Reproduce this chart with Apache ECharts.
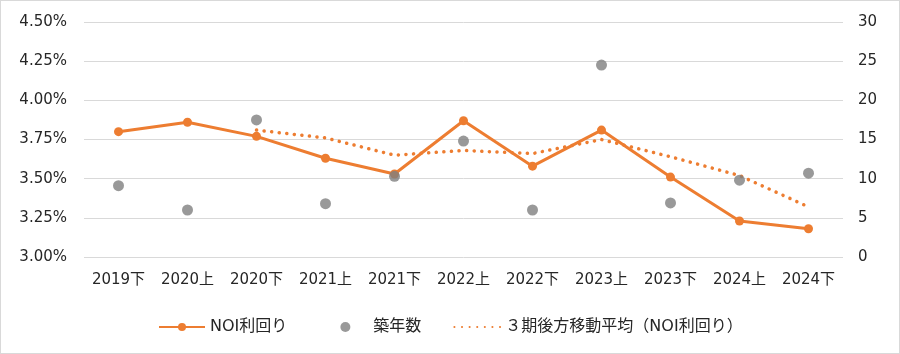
<!DOCTYPE html>
<html>
<head>
<meta charset="utf-8">
<script src="https://cdn.jsdelivr.net/npm/echarts@6/dist/echarts.min.js"></script>
<style>
  html, body { margin: 0; padding: 0; background: #fff; }
  #main { width: 898px; height: 352px; border: 1px solid #d9d9d9; }
</style>
</head>
<body>
<div id="main"></div>
<script>
const categories = ['2019下', '2020上', '2020下', '2021上', '2021下', '2022上', '2022下', '2023上', '2023下', '2024上', '2024下'];
const noiYield = [3.80, 3.86, 3.77, 3.63, 3.53, 3.87, 3.58, 3.81, 3.51, 3.23, 3.18];
const buildingAge = [9.1, 6.0, 17.5, 6.8, 10.3, 14.8, 6.0, 24.5, 6.9, 9.8, 10.7];
const movingAvg = [null, null, 3.81, 3.76, 3.65, 3.68, 3.66, 3.75, 3.64, 3.52, 3.32];

const orange = '#ED7D31';
const gray = '#7F7F7F';
const textColor = '#262626';
const font = '"DejaVu Sans", "Noto Sans CJK JP", sans-serif';

const chart = echarts.init(document.getElementById('main'));

chart.setOption({
    animation: false,
    textStyle: { fontFamily: font },
    grid: { left: 83, right: 56, top: 21, bottom: 96, outerBoundsMode: 'none' },
    legend: {
        bottom: 13,
        left: 152,
        itemGap: 32,
        itemWidth: 46,
        itemHeight: 10,
        textStyle: { fontSize: 16, color: textColor, fontFamily: font },
        // 1つ目の項目の後ろは少し広め
        formatter: name => name === 'NOI利回り' ? name + '\u3000 ' : name,
        data: [
            { name: 'NOI利回り' },
            { name: '築年数' },
            { name: '３期後方移動平均（NOI利回り）', itemStyle: { opacity: 0 } }
        ]
    },
    xAxis: {
        type: 'category',
        data: categories,
        axisLine: { show: false },
        axisTick: { show: false },
        axisLabel: { fontSize: 15, color: textColor, margin: 16, interval: 0 }
    },
    yAxis: [
        {
            type: 'value',
            min: 3.0,
            max: 4.5,
            interval: 0.25,
            axisLabel: {
                fontSize: 15, color: textColor, margin: 17,
                formatter: v => v.toFixed(2) + '%'
            },
            splitLine: { lineStyle: { color: '#d9d9d9', width: 1 } },
            axisLine: { show: false },
            axisTick: { show: false }
        },
        {
            type: 'value',
            min: 0,
            max: 30,
            interval: 5,
            position: 'right',
            axisLabel: { fontSize: 15, color: textColor, margin: 15 },
            splitLine: { show: false },
            axisLine: { show: false },
            axisTick: { show: false }
        }
    ],
    series: [
        {
            name: 'NOI利回り',
            type: 'line',
            data: noiYield,
            yAxisIndex: 0,
            symbol: 'circle',
            symbolSize: 9,
            lineStyle: { color: orange, width: 3 },
            itemStyle: { color: orange },
            z: 3
        },
        {
            name: '築年数',
            type: 'scatter',
            data: buildingAge,
            yAxisIndex: 1,
            symbol: 'circle',
            symbolSize: 11,
            itemStyle: { color: gray },
            z: 4
        },
        {
            name: '３期後方移動平均（NOI利回り）',
            type: 'line',
            data: movingAvg,
            yAxisIndex: 0,
            symbol: 'none',
            lineStyle: { color: orange, width: 3.5, type: [0.1, 7.5], cap: 'round' },
            itemStyle: { color: orange },
            z: 2
        }
    ]
});
</script>
</body>
</html>
